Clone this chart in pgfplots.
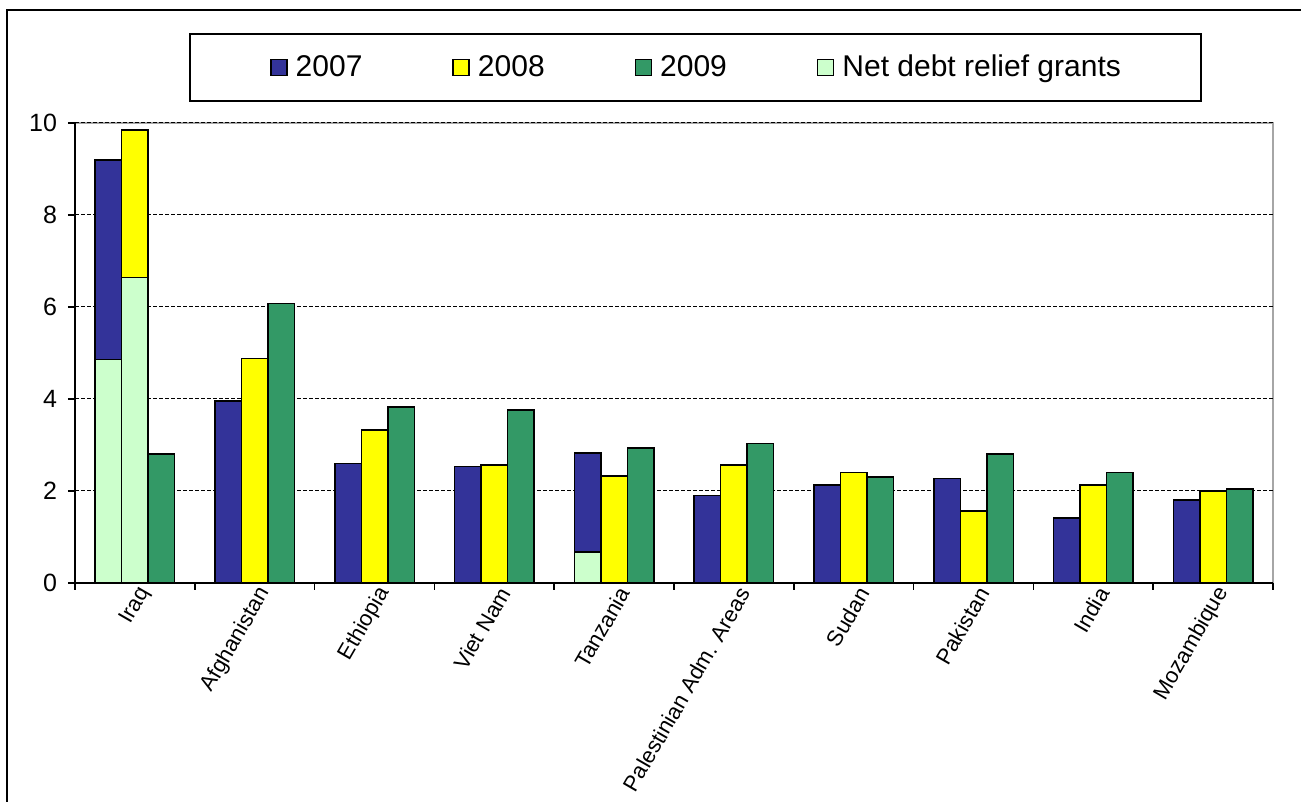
\documentclass[border=0pt]{standalone}
\usepackage{fontspec}
\setmainfont{Liberation Sans}
\usepackage{pgfplots}
\usepackage{pgfplotstable}
\pgfplotsset{compat=1.18}

\definecolor{c07}{HTML}{333399}
\definecolor{c08}{HTML}{FFFF00}
\definecolor{c09}{HTML}{339966}
\definecolor{cdebt}{HTML}{CCFFCC}

% totals per year, and the debt relief part of each bar
\pgfplotstableread{
x  y07  y08  y09  d07  d08  d09
0  9.20 9.85 2.80 4.86 6.64 0
1  3.96 4.88 6.08 0    0    0
2  2.60 3.33 3.83 0    0    0
3  2.53 2.57 3.76 0    0    0
4  2.83 2.33 2.93 0.67 0    0
5  1.90 2.57 3.03 0    0    0
6  2.13 2.40 2.30 0    0    0
7  2.27 1.57 2.80 0    0    0
8  1.41 2.13 2.40 0    0    0
9  1.80 2.00 2.04 0    0    0
}\data

\pgfplotsset{
  sq legend/.style={legend image code/.code={
    \draw[##1, line width=0.75pt] (0pt,-4pt) rectangle (8pt,4pt);}},
}

\begin{document}
\begin{tikzpicture}
\useasboundingbox (0,0) rectangle (650.5pt,401pt);
\draw[line width=0.9pt] (3.5pt,-2pt) -- (3.5pt,396pt) -- (660pt,396pt);
\begin{axis}[
  at={(37.5pt,109.5pt)}, anchor=south west,
  scale only axis,
  width=599pt, height=230pt,
  xmin=-0.5, xmax=9.5, ymin=0, ymax=10,
  enlargelimits=false,
  axis x line*=bottom, axis y line*=left,
  axis line style={line width=0.75pt, black},
  axis background/.style={draw=gray!70, line width=0.75pt},
  tick align=outside,
  major tick length=3.5pt,
  tick style={black, line width=0.75pt},
  ytick={0,2,...,10},
  ymajorgrids,
  grid style={black, dash pattern=on 2pt off 1pt, line width=0.5pt},
  xtick={-0.5,0.5,...,9.5},
  xticklabels={},
  extra x ticks={0,...,9},
  extra x tick labels={Iraq,Afghanistan,Ethiopia,Viet Nam,Tanzania,Palestinian Adm. Areas,Sudan,Pakistan,India,Mozambique},
  extra x tick style={grid=none, major tick length=0pt},
  xticklabel style={rotate=60, anchor=east, font=\fontsize{11}{13}\selectfont, inner sep=1pt, yshift=-6pt, xshift=1pt},
  yticklabel style={font=\fontsize{12.5}{14}\selectfont, xshift=-2pt},
  /pgf/number format/assume math mode=true,
  bar width=13.25pt,
  legend columns=4,
  legend style={
    at={(0.518,1.1207)}, anchor=center,
    draw=black, line width=0.75pt,
    inner xsep=40pt, inner ysep=10.5pt,
    font=\fontsize{15}{17}\selectfont,
    nodes={inner sep=0pt},
    /tikz/every odd column/.append style={column sep=4pt},
    /tikz/every even column/.append style={column sep=45pt},
  },
]
\addplot[ybar, bar shift=-13.25pt, fill=c07, draw=black, line width=0.75pt, sq legend] table[x=x, y=y07] {\data};
\addplot[ybar, bar shift=0pt, fill=c08, draw=black, line width=0.75pt, sq legend] table[x=x, y=y08] {\data};
\addplot[ybar, bar shift=13.25pt, fill=c09, draw=black, line width=0.75pt, sq legend] table[x=x, y=y09] {\data};
\addplot[ybar, bar shift=-13.25pt, fill=cdebt, draw=black, line width=0.75pt, sq legend] table[x=x, y=d07] {\data};
\addplot[ybar, bar shift=0pt, fill=cdebt, draw=black, line width=0.75pt, forget plot] table[x=x, y=d08] {\data};
\addplot[ybar, bar shift=13.25pt, fill=cdebt, draw=black, line width=0.75pt, forget plot] table[x=x, y=d09] {\data};
\legend{2007, 2008, 2009, Net debt relief grants}
\end{axis}
\end{tikzpicture}
\end{document}
